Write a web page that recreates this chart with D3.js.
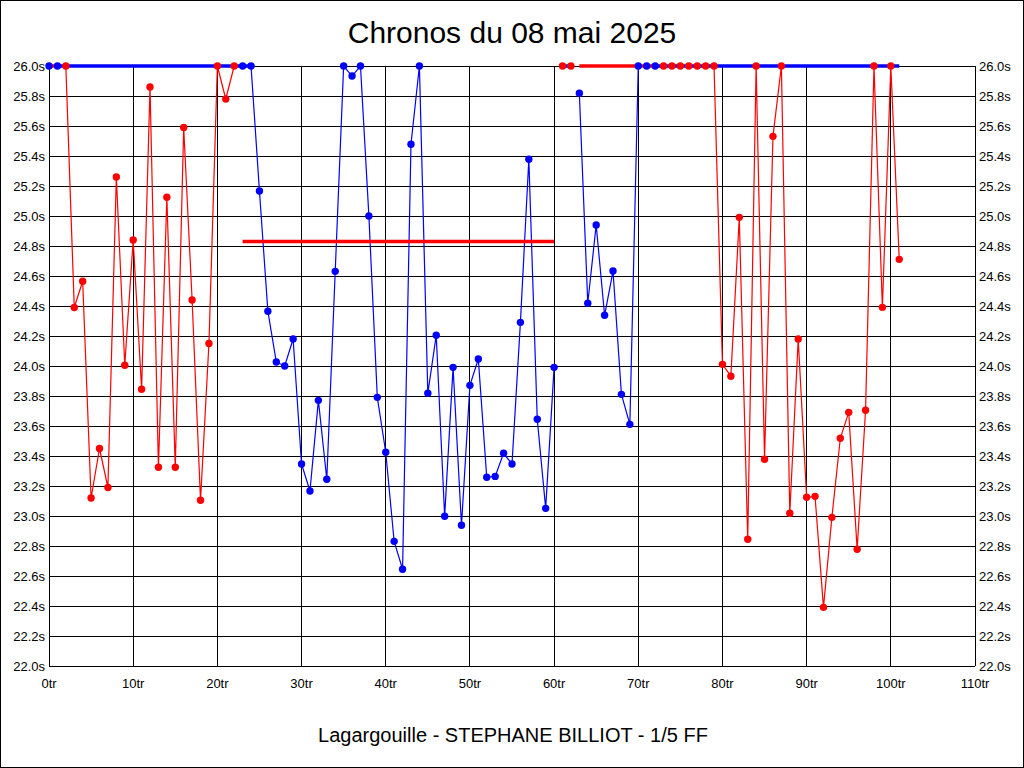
<!DOCTYPE html>
<html>
<head>
<meta charset="utf-8">
<script src="https://cdn.jsdelivr.net/npm/d3@7"></script>
<style>
  body { margin: 0; background: #fff; }
  svg { display: block; font-family: "Liberation Sans", Arial, sans-serif; }
</style>
</head>
<body>
<div id="chart"></div>
<script>
// Lap times (seconds), index = lap number; values above 26.0 are shown capped at 26.0
const lapTimes = [
  26.0, 26.0, 26.0, 24.39, 24.565, 23.12, 23.45, 23.19, 25.26, 24.005,
  24.84, 23.845, 25.86, 23.325, 25.125, 23.325, 25.59, 24.44, 23.105, 24.15,
  26.0, 25.78, 26.0, 26.0, 26.0, 25.167, 24.365, 24.027, 24.0, 24.18,
  23.347, 23.167, 23.771, 23.245, 24.631, 26.0, 25.933, 26.0, 25.0, 23.791,
  23.425, 22.831, 22.645, 25.478, 26.0, 23.818, 24.205, 22.998, 23.991, 22.938,
  23.871, 24.047, 23.258, 23.264, 23.418, 23.347, 24.291, 25.378, 23.645, 23.051,
  23.991, 26.0, 26.0, 25.818, 24.418, 24.94, 24.338, 24.633, 23.811, 23.611,
  26.0, 26.0, 26.0, 26.0, 26.0, 26.0, 26.0, 26.0, 26.0, 26.0,
  24.011, 23.932, 24.991, 22.845, 26.0, 23.378, 25.531, 26.0, 23.018, 24.18,
  23.125, 23.131, 22.391, 22.991, 23.518, 23.691, 22.778, 23.705, 26.0, 24.391,
  26.0, 24.711
];

// Stints (driver relays): first lap, last lap, colour
const stintStart = [0, 2, 23, 61, 63, 73];
const stintEnd = [1, 22, 60, 62, 72, 101];
const stintColor = ["#0000ff", "#ff0000", "#0000ff", "#ff0000", "#0000ff", "#ff0000"];

// Stint averages (capped at 26.0), drawn as thick bars
const avgFrom = [0, 1, 23, 61, 63, 72];
const avgTo = [1, 24, 60, 62, 72, 101];
const avgValue = [26.0, 26.0, 24.83, 26.0, 26.0, 26.0];
const avgColor = ["#ff0000", "#0000ff", "#ff0000", "#0000ff", "#ff0000", "#0000ff"];

const xTicks = [0, 10, 20, 30, 40, 50, 60, 70, 80, 90, 100, 110];
const yTicks = [22.0, 22.2, 22.4, 22.6, 22.8, 23.0, 23.2, 23.4, 23.6, 23.8, 24.0,
  24.2, 24.4, 24.6, 24.8, 25.0, 25.2, 25.4, 25.6, 25.8, 26.0];

const title = "Chronos du 08 mai 2025";
const subtitle = "Lagargouille - STEPHANE BILLIOT - 1/5 FF";

const W = 1024, H = 768;
const plot = { left: 49, right: 975, top: 66, bottom: 666 };

const x = d3.scaleLinear().domain([0, 110]).range([plot.left, plot.right]);
const y = d3.scaleLinear().domain([22, 26]).range([plot.bottom, plot.top]);

const svg = d3.select("#chart").append("svg")
  .attr("width", W)
  .attr("height", H);

// outer frame
svg.append("rect")
  .attr("x", 0.5).attr("y", 0.5)
  .attr("width", W - 1).attr("height", H - 1)
  .attr("fill", "#fff").attr("stroke", "#000");

// title & subtitle
svg.append("text")
  .attr("x", 512).attr("y", 43)
  .attr("text-anchor", "middle")
  .style("font-size", "30px")
  .text(title);

svg.append("text")
  .attr("x", 513).attr("y", 742)
  .attr("text-anchor", "middle")
  .style("font-size", "20px")
  .text(subtitle);

// grid
const grid = svg.append("g").attr("shape-rendering", "crispEdges");
grid.selectAll(".hgrid").data(yTicks).enter().append("line")
  .attr("x1", plot.left).attr("x2", plot.right)
  .attr("y1", (d) => y(d)).attr("y2", (d) => y(d))
  .attr("stroke", "#000");
grid.selectAll(".vgrid").data(xTicks).enter().append("line")
  .attr("x1", (d) => x(d)).attr("x2", (d) => x(d))
  .attr("y1", plot.top).attr("y2", plot.bottom)
  .attr("stroke", "#000");

// axes labels (left, right, bottom)
const yFmt = (d) => d.toFixed(1) + "s";
svg.append("g").selectAll("text").data(yTicks).enter().append("text")
  .attr("x", 45).attr("y", (d) => y(d) + 5)
  .attr("text-anchor", "end")
  .style("font-size", "13px")
  .text(yFmt);
svg.append("g").selectAll("text").data(yTicks).enter().append("text")
  .attr("x", 979).attr("y", (d) => y(d) + 5)
  .style("font-size", "13px")
  .text(yFmt);
svg.append("g").selectAll("text").data(xTicks).enter().append("text")
  .attr("x", (d) => x(d)).attr("y", 688)
  .attr("text-anchor", "middle")
  .style("font-size", "13px")
  .text((d) => d + "tr");

// lap traces, one path per stint
const line = d3.line()
  .x((d) => x(d.lap))
  .y((d) => y(Math.min(d.t, 26)));

const stints = stintStart.map((s, i) => {
  const pts = [];
  for (let lap = s; lap <= stintEnd[i]; lap++) pts.push({ lap: lap, t: lapTimes[lap] });
  return { color: stintColor[i], pts: pts };
});

svg.append("g").selectAll("path").data(stints).enter().append("path")
  .attr("d", (d) => line(d.pts))
  .attr("fill", "none")
  .attr("stroke", (d) => d.color)
  .attr("stroke-width", 1.2);

// stint averages
svg.append("g").selectAll("line").data(avgValue).enter().append("line")
  .attr("x1", (d, i) => x(avgFrom[i]))
  .attr("x2", (d, i) => x(avgTo[i]))
  .attr("y1", (d) => y(d)).attr("y2", (d) => y(d))
  .attr("stroke", (d, i) => avgColor[i])
  .attr("stroke-width", 3.5);

// lap dots
const dots = [];
stints.forEach((s) => s.pts.forEach((p) => dots.push({ lap: p.lap, t: p.t, color: s.color })));
svg.append("g").selectAll("circle").data(dots).enter().append("circle")
  .attr("cx", (d) => x(d.lap))
  .attr("cy", (d) => y(Math.min(d.t, 26)))
  .attr("r", 3.7)
  .attr("fill", (d) => d.color);
</script>
</body>
</html>
